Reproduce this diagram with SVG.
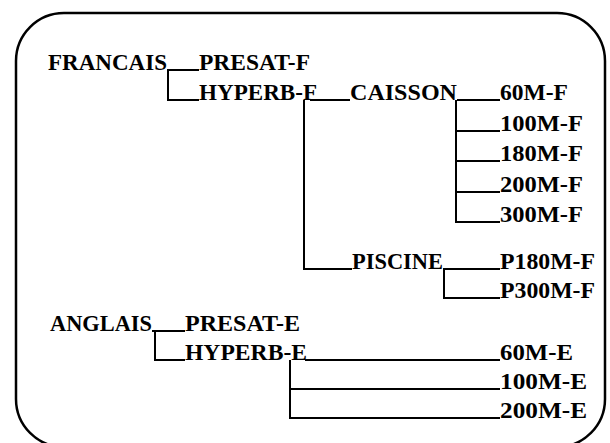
<svg xmlns="http://www.w3.org/2000/svg" width="610" height="443" viewBox="0 0 610 443">
<style>
text{font-family:"Liberation Serif","Times New Roman",serif;font-weight:bold;font-size:23px;fill:#000}
.c{fill:none;stroke:#000;stroke-width:2}
.f{fill:none;stroke:#000;stroke-width:2.5}
</style>
<rect width="610" height="443" fill="#fff"/>
<rect class="f" x="16" y="13" width="589" height="434" rx="48" ry="48"/>
<g id="connectors">
<path class="c" d="M167,70H199M168,70V100H199"/>
<path class="c" d="M310,100H350M304,100V269H352"/>
<path class="c" d="M457,100H500M456,100V222H500M456,131H500M456,161H500M456,192H500"/>
<path class="c" d="M443,269H500M444,269V298H500"/>
<path class="c" d="M152,331H185M155,331V360H185"/>
<path class="c" d="M305,360H500M290,360V418H500M290,389H500"/>
</g>
<g id="francais"><text x="48" y="70" textLength="119" lengthAdjust="spacingAndGlyphs">FRANCAIS</text></g>
<g id="presat-f"><text x="199" y="70" textLength="111" lengthAdjust="spacingAndGlyphs">PRESAT-F</text></g>
<g id="hyperb-f"><text x="199" y="100" textLength="118" lengthAdjust="spacingAndGlyphs">HYPERB-F</text></g>
<g id="caisson"><text x="350" y="100" textLength="107" lengthAdjust="spacingAndGlyphs">CAISSON</text></g>
<g id="m60-f"><text x="500" y="100" textLength="68" lengthAdjust="spacingAndGlyphs">60M-F</text></g>
<g id="m100-f"><text x="500" y="131" textLength="83" lengthAdjust="spacingAndGlyphs">100M-F</text></g>
<g id="m180-f"><text x="500" y="161" textLength="83" lengthAdjust="spacingAndGlyphs">180M-F</text></g>
<g id="m200-f"><text x="500" y="192" textLength="83" lengthAdjust="spacingAndGlyphs">200M-F</text></g>
<g id="m300-f"><text x="500" y="222" textLength="83" lengthAdjust="spacingAndGlyphs">300M-F</text></g>
<g id="piscine"><text x="352" y="269" textLength="91" lengthAdjust="spacingAndGlyphs">PISCINE</text></g>
<g id="p180m-f"><text x="500" y="269" textLength="95" lengthAdjust="spacingAndGlyphs">P180M-F</text></g>
<g id="p300m-f"><text x="500" y="298" textLength="95" lengthAdjust="spacingAndGlyphs">P300M-F</text></g>
<g id="anglais"><text x="50" y="331" textLength="102" lengthAdjust="spacingAndGlyphs">ANGLAIS</text></g>
<g id="presat-e"><text x="185" y="331" textLength="115" lengthAdjust="spacingAndGlyphs">PRESAT-E</text></g>
<g id="hyperb-e"><text x="185" y="360" textLength="122" lengthAdjust="spacingAndGlyphs">HYPERB-E</text></g>
<g id="m60-e"><text x="500" y="360" textLength="73" lengthAdjust="spacingAndGlyphs">60M-E</text></g>
<g id="m100-e"><text x="500" y="389" textLength="87" lengthAdjust="spacingAndGlyphs">100M-E</text></g>
<g id="m200-e"><text x="500" y="418" textLength="87" lengthAdjust="spacingAndGlyphs">200M-E</text></g>
</svg>
